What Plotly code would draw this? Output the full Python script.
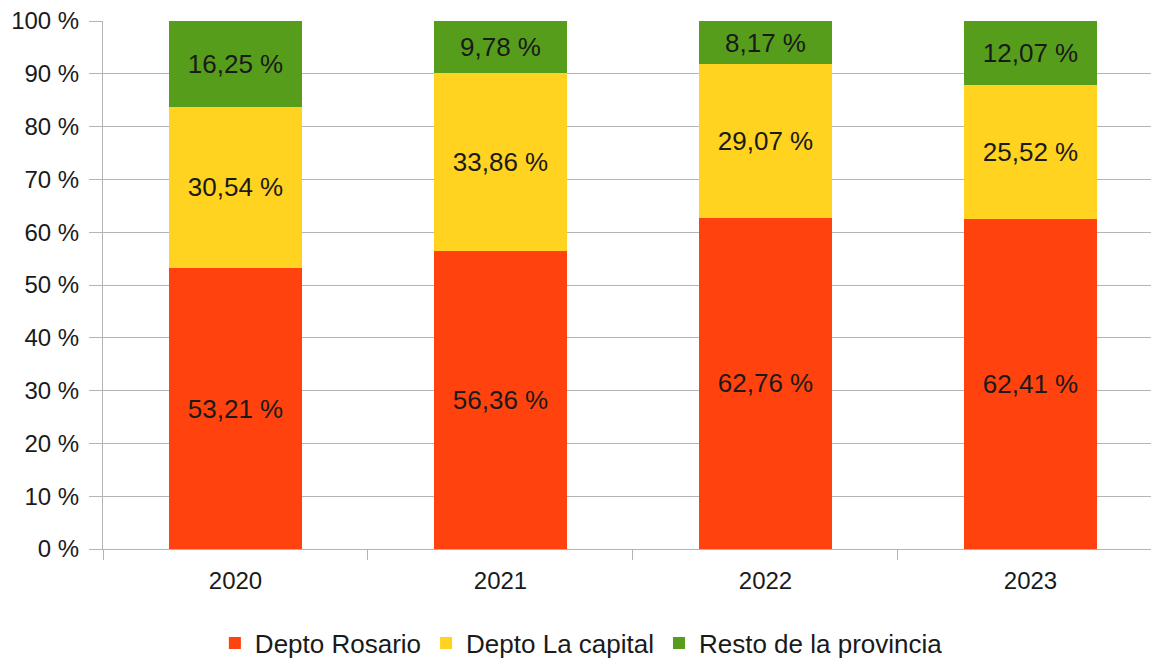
import plotly.graph_objects as go

years = ["2020", "2021", "2022", "2023"]
rosario = [53.21, 56.36, 62.76, 62.41]
la_capital = [30.54, 33.86, 29.07, 25.52]
resto = [16.25, 9.78, 8.17, 12.07]

series = [
    ("Depto Rosario", rosario, "#FF420E"),
    ("Depto La capital", la_capital, "#FFD320"),
    ("Resto de la provincia", resto, "#579D1C"),
]

fig = go.Figure()
for name, vals, color in series:
    fig.add_trace(
        go.Bar(
            x=years,
            y=vals,
            name=name,
            marker=dict(color=color, line_width=0),
            width=0.5,
            texttemplate="%{y:.2f} %",
            textposition="inside",
            insidetextanchor="middle",
            textangle=0,
            textfont=dict(size=26, color="#1a1a1a"),
        )
    )

# page body adds an 8px offset, so the figure is 8px smaller than the window
fig.update_layout(
    barmode="stack",
    separators=",.",
    width=1151,
    height=650,
    margin=dict(l=95, r=0, t=13, b=109),
    plot_bgcolor="white",
    paper_bgcolor="white",
    font=dict(family="Liberation Sans, Arial, sans-serif", size=24, color="#1a1a1a"),
    bargap=0.5,
    showlegend=True,
    legend=dict(
        orientation="h",
        x=0.453,
        xanchor="center",
        xref="paper",
        y=0.023,
        yanchor="middle",
        yref="container",
        font=dict(size=26),
        itemsizing="constant",
        traceorder="normal",
    ),
    xaxis=dict(
        type="category",
        range=[-0.5, 3.485],
        tickson="boundaries",
        ticks="outside",
        ticklen=10,
        tickcolor="#b3b3b3",
        showline=True,
        linecolor="#b3b3b3",
        showgrid=False,
        ticklabelstandoff=10,
        automargin=False,
    ),
    yaxis=dict(
        range=[0, 100],
        dtick=10,
        ticksuffix=" %",
        ticks="outside",
        ticklen=13,
        tickcolor="#b3b3b3",
        showline=True,
        linecolor="#b3b3b3",
        showgrid=True,
        gridcolor="#b3b3b3",
        zeroline=False,
        ticklabelstandoff=5,
        ticklabeloverflow="allow",
        automargin=False,
    ),
)

fig.write_html("out.html")
